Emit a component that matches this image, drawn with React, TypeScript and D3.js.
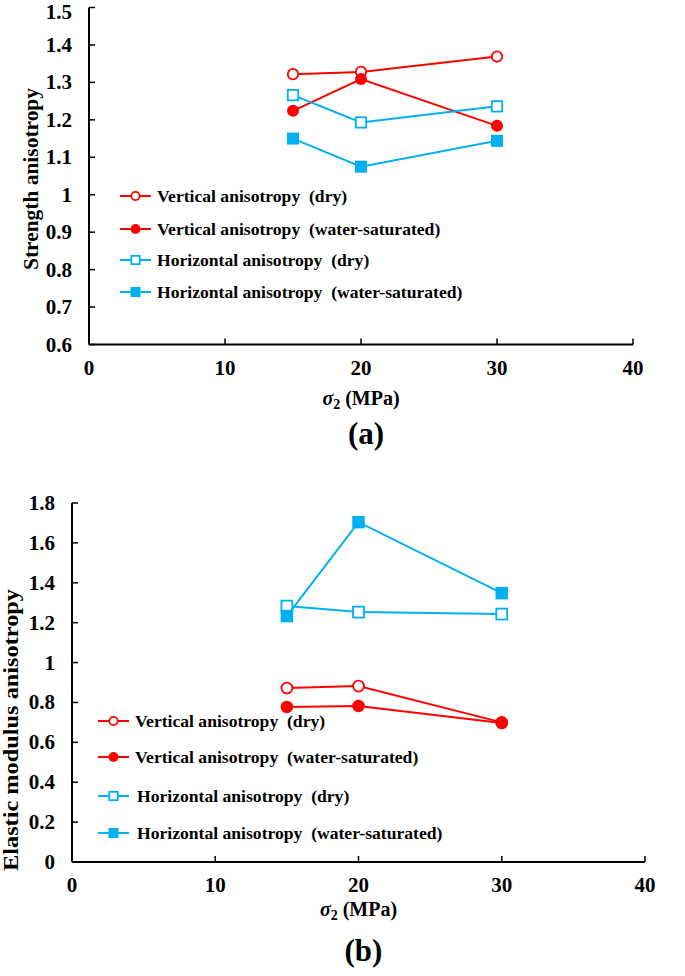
import React from "react";
import * as d3 from "d3";

const X_VALUES = [15, 20, 30];
const X_TICKS = [0, 10, 20, 30, 40];

// (a) Strength anisotropy
const strengthVertDry = [1.322, 1.328, 1.369];
const strengthVertWet = [1.224, 1.309, 1.184];
const strengthHorDry = [1.266, 1.193, 1.236];
const strengthHorWet = [1.15, 1.075, 1.144];
const STRENGTH_Y_TICKS = [0.6, 0.7, 0.8, 0.9, 1.0, 1.1, 1.2, 1.3, 1.4, 1.5];

// (b) Elastic modulus anisotropy
const modulusVertDry = [0.872, 0.882, 0.7];
const modulusVertWet = [0.777, 0.782, 0.697];
const modulusHorDry = [1.283, 1.253, 1.243];
const modulusHorWet = [1.233, 1.704, 1.348];
const MODULUS_Y_TICKS = [0, 0.2, 0.4, 0.6, 0.8, 1.0, 1.2, 1.4, 1.6, 1.8];

const SERIES_NAMES = [
  "Vertical anisotropy  (dry)",
  "Vertical anisotropy  (water-saturated)",
  "Horizontal anisotropy  (dry)",
  "Horizontal anisotropy  (water-saturated)",
];

const RED = "#FF0000";
const BLUE = "#00B0F0";
const FONT = "'Liberation Serif', 'Times New Roman', serif";

type Series = { name: string; values: number[]; color: string; shape: "circle" | "square"; filled: boolean };

function Marker({ x, y, shape, filled, color, size }: { x: number; y: number; shape: string; filled: boolean; color: string; size: number }) {
  if (shape === "circle") {
    return (
      <circle cx={x} cy={y} r={filled ? size / 2 : size / 2 - 0.8} fill={filled ? color : "#fff"} stroke={color} strokeWidth={filled ? 0 : 1.8} />
    );
  }
  const s = filled ? size : size - 1.6;
  return <rect x={x - s / 2} y={y - s / 2} width={s} height={s} fill={filled ? color : "#fff"} stroke={color} strokeWidth={filled ? 0 : 1.8} />;
}

function Chart(props: {
  series: Series[];
  xRange: [number, number];
  yDomain: [number, number];
  yRange: [number, number];
  yTicks: number[];
  yTitle: string;
  yTitleX: number;
  yTitleY: number;
  yTitleLen: number;
  xTitleY: number;
  panelLabel: string;
  panelY: number;
  legendX: number;
  legendYs: number[];
  legendTextX: number[];
  markerSize: number;
}) {
  const x = d3.scaleLinear().domain([0, 40]).range(props.xRange);
  const y = d3.scaleLinear().domain(props.yDomain).range(props.yRange);
  const line = d3
    .line<number>()
    .x((_, i) => x(X_VALUES[i]))
    .y((d) => y(d));
  const x0 = props.xRange[0];
  const y0 = props.yRange[0];
  const fmt = (v: number) => String(+v.toFixed(1));
  return (
    <g>
      {/* axes */}
      <line x1={x0} x2={x0} y1={props.yRange[0]} y2={props.yRange[1]} stroke="#000" strokeWidth={2} />
      <line x1={props.xRange[0]} x2={props.xRange[1]} y1={y0} y2={y0} stroke="#000" strokeWidth={2} />
      {props.yTicks.map((t) => (
        <g key={"y" + t}>
          <line x1={x0} x2={x0 + 6} y1={y(t)} y2={y(t)} stroke="#000" strokeWidth={1.5} />
          <text x={x0 - 17} y={Math.max(y(t) + 7, 18.5)} textAnchor="end" fontFamily={FONT} fontWeight="bold" fontSize={21}>
            {fmt(t)}
          </text>
        </g>
      ))}
      {X_TICKS.map((t) => (
        <g key={"x" + t}>
          <line x1={x(t)} x2={x(t)} y1={y0} y2={y0 - 6} stroke="#000" strokeWidth={1.5} />
          <text x={x(t)} y={y0 + 30} textAnchor="middle" fontFamily={FONT} fontWeight="bold" fontSize={21}>
            {t}
          </text>
        </g>
      ))}
      {/* axis titles */}
      <text
        transform={`translate(${props.yTitleX},${props.yTitleY}) rotate(-90)`}
        textAnchor="middle"
        fontFamily={FONT}
        fontWeight="bold"
        fontSize={21}
        textLength={props.yTitleLen}
        lengthAdjust="spacingAndGlyphs"
      >
        {props.yTitle}
      </text>
      <text x={x(20)} y={props.xTitleY} textAnchor="middle" fontFamily={FONT} fontWeight="bold" fontSize={20}>
        <tspan fontStyle="italic">σ</tspan>
        <tspan fontSize={14} dy={4}>2</tspan>
        <tspan dy={-4}> (MPa)</tspan>
      </text>
      <text x={x(20) + 5} y={props.panelY} textAnchor="middle" fontFamily={FONT} fontWeight="bold" fontSize={31}>
        {props.panelLabel}
      </text>
      {/* series */}
      {props.series.map((s) => (
        <g key={s.name}>
          <path d={line(s.values) || ""} fill="none" stroke={s.color} strokeWidth={2} />
          {s.values.map((v, i) => (
            <Marker key={i} x={x(X_VALUES[i])} y={y(v)} shape={s.shape} filled={s.filled} color={s.color} size={props.markerSize} />
          ))}
        </g>
      ))}
      {/* legend */}
      {props.series.map((s, i) => (
        <g key={"lg" + i}>
          <line x1={props.legendX} x2={props.legendX + 31} y1={props.legendYs[i]} y2={props.legendYs[i]} stroke={s.color} strokeWidth={2} />
          <Marker x={props.legendX + 15.5} y={props.legendYs[i]} shape={s.shape} filled={s.filled} color={s.color} size={10} />
          <text
            x={props.legendTextX[i]}
            y={props.legendYs[i] + 6}
            fontFamily={FONT}
            fontWeight="bold"
            fontSize={17.6}
            style={{ whiteSpace: "pre" }}
          >
            {s.name}
          </text>
        </g>
      ))}
    </g>
  );
}

function makeSeries(vd: number[], vw: number[], hd: number[], hw: number[]): Series[] {
  return [
    { name: SERIES_NAMES[0], values: vd, color: RED, shape: "circle", filled: false },
    { name: SERIES_NAMES[1], values: vw, color: RED, shape: "circle", filled: true },
    { name: SERIES_NAMES[2], values: hd, color: BLUE, shape: "square", filled: false },
    { name: SERIES_NAMES[3], values: hw, color: BLUE, shape: "square", filled: true },
  ];
}

export default function App() {
  return (
    <svg width={685} height={976} style={{ position: "absolute", left: 0, top: 0, background: "#fff" }}>
      <rect width={685} height={976} fill="#fff" />
      <Chart
        series={makeSeries(strengthVertDry, strengthVertWet, strengthHorDry, strengthHorWet)}
        xRange={[89, 633]}
        yDomain={[0.6, 1.5]}
        yRange={[344.5, 7.5]}
        yTicks={STRENGTH_Y_TICKS}
        yTitle="Strength anisotropy"
        yTitleX={38}
        yTitleY={179}
        yTitleLen={182}
        xTitleY={405}
        panelLabel="(a)"
        panelY={444}
        legendX={120}
        legendYs={[196, 229, 260, 292]}
        legendTextX={[157, 157, 157, 157]}
        markerSize={12}
      />
      <Chart
        series={makeSeries(modulusVertDry, modulusVertWet, modulusHorDry, modulusHorWet)}
        xRange={[72, 645]}
        yDomain={[0, 1.8]}
        yRange={[862, 503]}
        yTicks={MODULUS_Y_TICKS}
        yTitle="Elastic  modulus  anisotropy"
        yTitleX={18}
        yTitleY={730}
        yTitleLen={282}
        xTitleY={916}
        panelLabel="(b)"
        panelY={961}
        legendX={98}
        legendYs={[721, 757, 796, 833]}
        legendTextX={[135, 135, 137, 137]}
        markerSize={12.5}
      />
    </svg>
  );
}
